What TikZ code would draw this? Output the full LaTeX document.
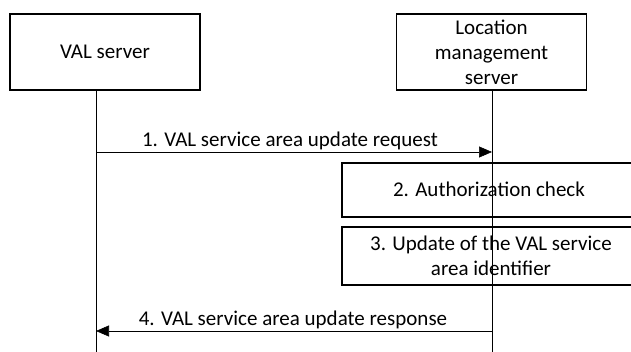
\documentclass[tikz,border=0pt]{standalone}
\usepackage{fontspec}
\setmainfont{Carlito}
\usetikzlibrary{arrows.meta}
\begin{document}
\begin{tikzpicture}[x=1pt,y=-1pt,
  ent/.style={draw,line width=1.2pt,minimum width=190pt,minimum height=76pt,align=center,font=\fontsize{21}{25}\selectfont,inner sep=0pt},
  proc/.style={draw,line width=1.2pt,minimum width=300pt,align=center,inner sep=0pt},
  life/.style={line width=0.9pt},
  msg/.style={line width=0.6pt,-{Triangle[length=13pt,width=11pt]}},
  lbl/.style={font=\fontsize{21}{25}\selectfont,inner sep=0pt}]
\useasboundingbox (0,0) rectangle (631,352);
\clip (0,0) rectangle (631,352);
\node[ent] (val) at (105,52) {VAL server};
\node[ent] (lms) at (491.5,52) {Location\\management\\server};
\coordinate (valb) at (96,352);
\coordinate (lmsb) at (492,352);
\draw[life] (val.south -| valb) -- (valb);
\draw[life] (lms.south -| lmsb) -- (lmsb);
\node[proc,minimum height=54pt] (p2) at (492,190) {};
\node[proc,minimum height=58pt] (p3) at (492,256) {};
\node[lbl] (t2) at (489,189) {2. Authorization check};
\node[lbl,align=center] (t3) at (491,256) {3. Update of the VAL service\\area identifier};
\coordinate (a1s) at (96,152);
\coordinate (a1e) at (492,152);
\draw[msg] (a1s) -- (a1e);
\node[lbl] (l1) at (290,141) {1. VAL service area update request};
\coordinate (a4s) at (492,331);
\coordinate (a4e) at (96,331);
\draw[msg] (a4s) -- (a4e);
\node[lbl] (l4) at (293,320) {4. VAL service area update response};
\end{tikzpicture}
\end{document}
